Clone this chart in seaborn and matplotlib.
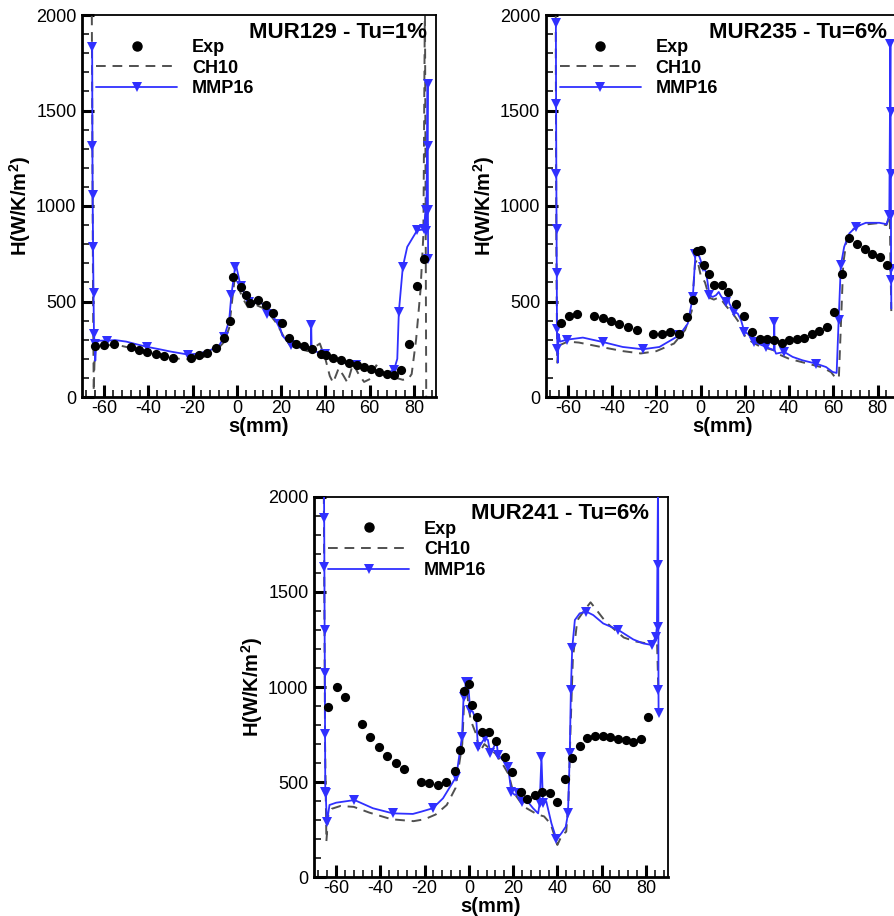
import matplotlib
matplotlib.use("Agg")
import matplotlib.pyplot as plt
from matplotlib.lines import Line2D
from matplotlib.ticker import MultipleLocator
import numpy as np
import pandas as pd
import seaborn as sns

sns.set_style("ticks")
plt.rcParams["font.family"] = ["Liberation Sans", "DejaVu Sans"]
plt.rcParams["mathtext.fontset"] = "custom"
plt.rcParams["mathtext.rm"] = "Liberation Sans"
plt.rcParams["axes.unicode_minus"] = False
for key in ["axes.edgecolor", "axes.labelcolor", "text.color", "xtick.color", "ytick.color"]:
    plt.rcParams[key] = "black"

# ---------------- MUR129 - Tu=1% ----------------
exp1_s = [-64, -60, -55.5, -48, -44.2, -40.4, -36.7, -32.9, -28.8, -20.9, -17.1, -13.3, -9.6, -5.8,
          -3.2, -1.7, 2.0, 4.0, 5.9, 9.5, 13.0, 16.5, 20.2, 23.5, 26.6, 30.3, 34.1, 37.8, 40.1, 43.4,
          46.9, 50.6, 54.1, 57.4, 60.7, 64.2, 68.0, 71.0, 74.4, 77.7, 81.2, 84.5]
exp1_h = [267, 270, 280, 262, 248, 236, 224, 215, 206, 206, 218, 232, 257, 311,
          396, 629, 576, 533, 493, 506, 482, 440, 388, 311, 280, 267, 253, 227, 218, 204,
          192, 178, 169, 157, 147, 131, 122, 115, 140, 276, 580, 720]

ch1_s = [-65.6, -65.0, -64.7, -64.2, -63, -60, -55, -50, -45, -40, -35, -30, -25, -20, -15, -10, -6,
         -3.5, -2, -1, 0, 1.5, 3, 5, 7, 9, 12, 15, 18, 21, 24, 28, 32, 35, 37.5, 40, 42, 43.5, 46,
         48, 50, 52.5, 55, 57.5, 60.5, 63, 65.5, 68, 70, 72, 75, 77.5, 79, 81, 83, 84.3, 85.0, 85.6]
ch1_h = [2100, 500, 30, 250, 265, 268, 275, 262, 250, 238, 222, 208, 198, 198, 210, 235, 285,
         360, 520, 620, 610, 550, 510, 470, 475, 480, 465, 430, 385, 320, 270, 255, 240, 260, 280,
         200, 110, 75, 150, 115, 75, 175, 120, 79, 96, 166, 130, 110, 120, 100, 90, 95, 120, 300,
         560, 850, 2100, -50]

mmp1_s = [-65.4, -65.3, -65.2, -65.0, -64.8, -64.6, -64.3, -64.0, -63.5, -62, -58.5, -55, -50, -45,
          -40.4, -35, -30, -22, -17, -12, -8, -5.8, -3.5, -2.5, -0.8, -0.2, 1.7, 3.5, 5.5, 8, 10,
          12.3, 13.8, 16, 19, 20.5, 24.3, 27.3, 30, 33.4, 33.6, 33.8, 37.8, 40, 44, 47.6, 53.7,
          58.9, 63, 66.4, 71, 72.5, 73.2, 75, 77, 81.5, 84.5, 85.3, 85.6, 86.2, 86.3, 86.35, 86.45]
mmp1_h = [1830, 1313, 1060, 786, 545, 332, 280, 190, 290, 295, 295, 298, 290, 275,
          262, 250, 238, 222, 228, 245, 270, 314, 400, 533, 681, 681, 580, 540, 498, 490, 500,
          480, 437, 423, 384, 323, 271, 262, 255, 250, 375, 250, 227, 224, 205, 183, 166,
          148, 135, 122, 140, 200, 445, 681, 786, 873, 877, 980, 870, 1640, 1313, 978, 720]
mmp1_marks = [0, 1, 2, 3, 4, 5, 6, 10, 14, 17, 21, 23, 24, 26, 28, 32, 34, 36, 40, 43, 46, 50,
              52, 53, 55, 56, 57, 58, 59, 60, 61, 62]

# ---------------- MUR235 - Tu=6% ----------------
exp2_s = [-63.3, -59.5, -55.8, -48.0, -44.2, -40.4, -36.7, -32.6, -28.8, -21.3, -17.4, -13.6, -9.9,
          -6.3, -3.6, -1.7, 0.2, 1.7, 3.7, 6.2, 9.5, 12.6, 16.0, 19.8, 23.2, 26.9, 29.9, 33.3, 36.8,
          40.1, 43.4, 46.9, 50.3, 53.7, 57.1, 60.4, 63.9, 67.2, 70.6, 74.3, 77.7, 81.2, 84.1]
exp2_h = [388, 426, 437, 426, 414, 398, 384, 367, 349, 328, 332, 341, 332,
          419, 507, 765, 772, 693, 643, 585, 585, 550, 486, 426, 341, 302, 306, 297, 283,
          297, 306, 311, 328, 344, 367, 445, 646, 835, 803, 777, 751, 734, 693]

ch2_s = [-65.5, -65.2, -64.8, -64.0, -60, -55, -45, -35, -27, -20, -12, -7, -4, -2.5, -1.5, 0, 2, 4,
         6, 8, 10, 12, 15, 18, 20, 23, 26, 30, 33, 35, 40, 45, 50, 55, 59, 61, 62.5, 63.5, 64.5, 66,
         68, 72, 80, 84, 85.5, 86.2]
ch2_h = [2100, 800, 180, 270, 290, 285, 262, 240, 228, 240, 280, 350, 450, 700, 720, 640, 600, 520,
         510, 520, 500, 470, 430, 380, 320, 290, 270, 255, 245, 225, 200, 185, 170, 155, 130, 100,
         100, 400, 700, 820, 870, 900, 910, 900, 950, 450]

mmp2_s = [-65.4, -65.3, -65.2, -65.1, -65.0, -64.9, -64.7, -64.5, -64.2, -63.5, -60.5, -53.2, -44.2,
          -35.2, -26.1, -18.6, -9.6, -5.8, -3.5, -2.3, -1.7, -0.5, 1.0, 2.5, 4.0, 5.5, 7.0, 8.2, 9.3,
          11.5, 12.3, 13.0, 15.3, 16.8, 18.3, 19.8, 21.3, 24.3, 29.6, 33.1, 33.3, 33.5, 34.1, 37.8,
          41.6, 46.1, 52.1, 56.7, 59.7, 61.5, 62.4, 63.4, 64.9, 67.2, 70.2, 74.7, 80.8, 84.1, 85.3,
          85.8, 85.9, 86.0, 86.05, 86.1, 86.15, 86.2]
mmp2_h = [1956, 1534, 1170, 882, 650, 358, 253, 180, 330, 290, 300, 311, 288,
          262, 250, 262, 323, 384, 524, 751, 751, 734, 681, 655, 533, 524, 533, 550, 527,
          498, 541, 489, 445, 437, 402, 341, 332, 288, 262, 245, 393, 245, 227, 236,
          210, 192, 175, 157, 131, 126, 402, 690, 786, 856, 891, 912, 912, 905, 952,
          1850, 1490, 1170, 952, 672, 611, 463]
mmp2_marks = [0, 1, 2, 3, 4, 5, 6, 10, 12, 14, 16, 18, 19, 22, 24, 29, 32, 35, 37, 38, 40, 43,
              46, 50, 51, 54, 58, 59, 60, 61, 62, 63, 64]

# ---------------- MUR241 - Tu=6% ----------------
exp3_s = [-63.5, -59.7, -55.9, -48.4, -44.6, -40.7, -36.9, -33.1, -29.4, -21.5, -17.8, -14.0, -10.2,
          -6.4, -3.9, -2.2, 0.0, 1.5, 3.7, 5.9, 9.1, 12.4, 16.2, 19.6, 23.4, 26.3, 29.8, 33.2, 36.5,
          40.0, 43.3, 46.7, 50.1, 53.6, 56.9, 60.4, 63.7, 67.2, 70.8, 74.3, 77.6, 81.0]
exp3_h = [893, 998, 946, 804, 736, 687, 637, 602, 569, 503, 494, 485, 503,
          559, 669, 981, 1016, 905, 841, 765, 762, 718, 634, 553, 450, 410, 433, 447, 441,
          398, 517, 625, 690, 734, 744, 744, 739, 725, 722, 711, 725, 844]

ch3_s = [-65.6, -65.0, -64.4, -63.5, -62, -58, -52, -45, -35, -25, -20, -15, -10, -6, -3, -2, -1, 0,
         1, 3, 5, 7, 9, 12, 15, 18, 20, 23, 25, 28, 31, 34, 37, 40, 42, 44, 45, 46, 47, 49, 52, 55,
         58, 62, 70, 75, 80, 83, 85, 85.6]
ch3_h = [2100, 700, 190, 330, 360, 375, 370, 340, 305, 295, 305, 330, 380, 470, 700, 960, 1000, 880,
         820, 760, 660, 700, 680, 650, 600, 540, 450, 400, 370, 350, 330, 320, 280, 170, 220, 240,
         400, 800, 1150, 1350, 1400, 1445, 1400, 1340, 1260, 1240, 1230, 1220, 1260, 1000]

mmp3_s = [-65.5, -65.4, -65.3, -65.2, -65.1, -65.0, -64.9, -64.7, -64.5, -64.1, -63.0, -60.0, -51.7,
          -43.4, -34.4, -25.3, -21.5, -16.3, -11.7, -5.7, -3.1, -2.4, -1.2, -0.4, 0.6, 1.8, 3.4,
          4.1, 5.6, 7.1, 8.6, 9.7, 11.4, 12.4, 13.2, 15.4, 17.7, 19.2, 20.7, 22.2, 24.2, 26.0,
          29.0, 31.3, 32.0, 32.8, 33.5, 35.0, 37.3, 39.6, 41.8, 43.8, 44.8, 45.6, 46.1, 46.7,
          47.9, 50.1, 53.1, 56.2, 60.7, 67.5, 74.3, 78.8, 82.6, 84.5, 85.0, 85.5, 85.6, 85.65,
          85.7, 85.75]
mmp3_h = [2100, 1886, 1629, 1300, 1075, 753, 450, 441, 380, 292, 380, 392, 406,
          363, 336, 333, 345, 363, 415, 529, 739, 949, 1028, 1028, 879, 870, 818,
          687, 704, 730, 722, 651, 687, 722, 643, 616, 581, 450, 433, 441, 398, 406,
          363, 336, 389, 634, 389, 398, 284, 200, 231, 266, 336, 651, 984, 1203,
          1352, 1387, 1396, 1378, 1334, 1300, 1250, 1229, 1221, 1264, 1317, 2100, 1641, 1317,
          984, 862]
mmp3_marks = [1, 2, 3, 4, 5, 6, 7, 9, 12, 14, 17, 19, 20, 21, 22, 23, 24, 27, 29, 31, 34, 36,
              37, 39, 40, 44, 45, 46, 49, 52, 53, 54, 55, 58, 61, 64, 65, 68, 69, 70, 71]

panels = [
    ("MUR129 - Tu=1%", exp1_s, exp1_h, ch1_s, ch1_h, mmp1_s, mmp1_h, mmp1_marks),
    ("MUR235 - Tu=6%", exp2_s, exp2_h, ch2_s, ch2_h, mmp2_s, mmp2_h, mmp2_marks),
    ("MUR241 - Tu=6%", exp3_s, exp3_h, ch3_s, ch3_h, mmp3_s, mmp3_h, mmp3_marks),
]

W, H = 894, 916
boxes = [(82, 15, 354, 382), (545.7, 15, 354, 382), (314, 496.7, 354, 380.6)]
title_x = [0.975, 0.964, 0.946]

blue = "#3030ff"
gray = "#505050"

fig = plt.figure(figsize=(W / 100, H / 100), dpi=100)

for k, (title, es, eh, cs, chh, ms, mh, marks) in enumerate(panels):
    x0, y0, w, h = boxes[k]
    ax = fig.add_axes([x0 / W, 1 - (y0 + h) / H, w / W, h / H])

    cdf = pd.DataFrame({"s": cs, "H": chh})
    sns.lineplot(data=cdf, x="s", y="H", sort=False, estimator=None, ax=ax,
                 color=gray, lw=1.4, linestyle=(0, (5, 3.5)), zorder=2)
    mdf = pd.DataFrame({"s": ms, "H": mh})
    sns.lineplot(data=mdf, x="s", y="H", sort=False, estimator=None, ax=ax,
                 color=blue, lw=1.3, marker="v", markersize=7, markevery=marks,
                 markeredgewidth=0, zorder=3)
    edf = pd.DataFrame({"s": es, "H": eh})
    sns.scatterplot(data=edf, x="s", y="H", ax=ax, color="black", s=44,
                    linewidth=0, zorder=4)

    ax.set_xlim(-70, 90)
    ax.set_ylim(0, 2000)
    ax.xaxis.set_major_locator(MultipleLocator(20))
    ax.xaxis.set_minor_locator(MultipleLocator(4))
    ax.yaxis.set_major_locator(MultipleLocator(500))
    ax.yaxis.set_minor_locator(MultipleLocator(100))
    ax.tick_params(which="major", direction="in", length=8.5, width=2.2, labelsize=13,
                   top=False, right=False)
    ax.tick_params(which="minor", direction="in", length=5, width=1.1, top=False, right=False)
    ax.tick_params(axis="x", pad=2)
    ax.tick_params(axis="y", pad=4)
    for side in ["left", "bottom"]:
        ax.spines[side].set_linewidth(2.0)
    for side in ["top", "right"]:
        ax.spines[side].set_linewidth(1.3)
        ax.spines[side].set_visible(True)

    ax.set_xlabel("s(mm)", fontsize=14.5, fontweight="bold", labelpad=0)
    ax.set_ylabel(r"H(W/K/m$\mathregular{^2}$)", fontsize=14.5, fontweight="bold", labelpad=2)

    ax.text(title_x[k], 0.955, title, transform=ax.transAxes, ha="right", va="center",
            fontsize=16, fontweight="bold")

    handles = [
        Line2D([], [], ls="none", marker="o", color="black", markersize=6.5),
        Line2D([], [], color=gray, lw=1.4, ls=(0, (5, 3.5))),
        Line2D([], [], color=blue, lw=1.3, marker="v", markersize=7, markeredgewidth=0),
    ]
    ax.legend(handles, ["Exp", "CH10", "MMP16"], loc="upper left",
              bbox_to_anchor=(0.04, 0.937), frameon=False, handlelength=4.5,
              handletextpad=0.8, labelspacing=0.2, borderpad=0, borderaxespad=0,
              prop={"weight": "bold", "size": 13})

fig.savefig("out.png", dpi=100)
